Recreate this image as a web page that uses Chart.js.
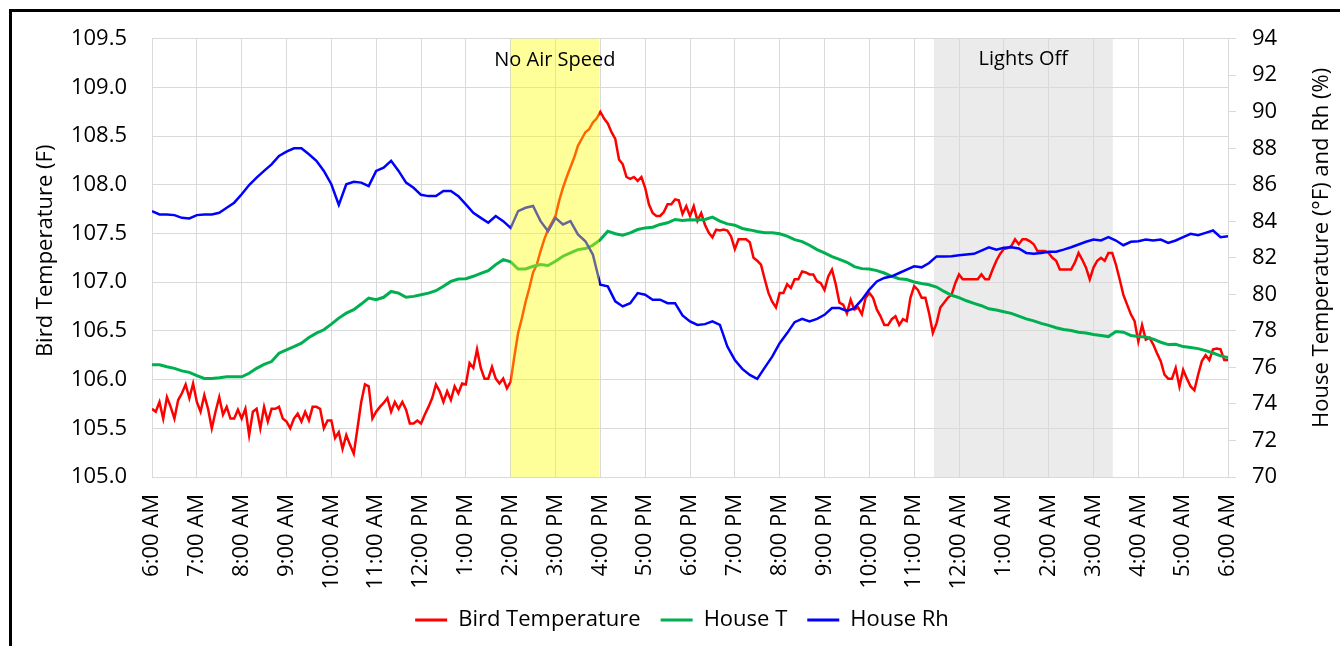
<!DOCTYPE html>
<html>
<head>
<meta charset="utf-8">
<script src="https://cdn.jsdelivr.net/npm/chart.js@4.4.0/dist/chart.umd.min.js"></script>
<style>
html,body{margin:0;padding:0;background:#fff;overflow:hidden;width:1340px;height:646px;}
#frame{position:absolute;left:9px;top:9px;width:1400px;height:700px;border-left:3px solid #000;border-top:3px solid #000;}
#wrap{position:absolute;left:12px;top:12px;width:1340px;height:634px;}
</style>
</head>
<body>
<div id="frame"></div>
<div id="wrap"><canvas id="c" width="1340" height="634"></canvas></div>
<script>
// ---- tick labels (hours from 6:00 AM) ----
const hourLabels = ["6:00 AM","7:00 AM","8:00 AM","9:00 AM","10:00 AM","11:00 AM","12:00 PM","1:00 PM","2:00 PM","3:00 PM","4:00 PM","5:00 PM","6:00 PM","7:00 PM","8:00 PM","9:00 PM","10:00 PM","11:00 PM","12:00 AM","1:00 AM","2:00 AM","3:00 AM","4:00 AM","5:00 AM","6:00 AM"];
const leftTicks = [105.0,105.5,106.0,106.5,107.0,107.5,108.0,108.5,109.0,109.5];
const rightTicks = [70,72,74,76,78,80,82,84,86,88,90,92,94];

// ---- shaded periods, hours after 6:00 AM ----
const noAirSpeed = [8.0, 9.97];
const lightsOff = [17.44, 21.43];

// ---- Bird Temperature (F), every 5 minutes from 6:00 AM ----
const birdStepMin = 5;
const birdTemp = [
105.70,105.67,105.77,105.60,105.82,105.72,105.60,105.79,105.86,105.95,105.81,105.96,
105.77,105.67,105.84,105.70,105.50,105.67,105.82,105.64,105.72,105.60,105.60,105.69,
105.60,105.70,105.43,105.67,105.70,105.50,105.72,105.57,105.70,105.70,105.72,105.60,
105.57,105.50,105.60,105.65,105.57,105.67,105.58,105.72,105.72,105.70,105.50,105.58,
105.58,105.40,105.46,105.29,105.43,105.33,105.24,105.50,105.77,105.95,105.93,105.60,
105.67,105.72,105.76,105.81,105.67,105.77,105.70,105.77,105.69,105.55,105.55,105.58,
105.55,105.64,105.72,105.81,105.95,105.88,105.77,105.88,105.79,105.93,105.86,105.96,
105.95,106.17,106.12,106.31,106.12,106.01,106.01,106.13,106.01,105.96,106.01,105.91,
105.98,106.24,106.48,106.63,106.80,106.94,107.10,107.18,107.32,107.44,107.54,107.61,
107.68,107.84,107.97,108.08,108.18,108.28,108.40,108.47,108.54,108.57,108.64,108.68,
108.75,108.68,108.63,108.54,108.47,108.26,108.21,108.08,108.06,108.08,108.04,108.08,
107.97,107.80,107.71,107.68,107.68,107.72,107.80,107.80,107.85,107.84,107.70,107.78,
107.68,107.78,107.63,107.71,107.59,107.51,107.46,107.54,107.53,107.54,107.53,107.47,
107.34,107.44,107.44,107.44,107.41,107.25,107.22,107.18,107.03,106.89,106.80,106.74,
106.89,106.89,106.98,106.94,107.03,107.03,107.11,107.10,107.08,107.08,107.01,106.99,
106.92,107.06,107.13,106.98,106.79,106.77,106.68,106.82,106.72,106.74,106.67,106.84,
106.89,106.84,106.72,106.65,106.56,106.56,106.62,106.65,106.56,106.62,106.60,106.84,
106.96,106.92,106.84,106.84,106.68,106.48,106.58,106.74,106.79,106.84,106.87,106.99,
107.08,107.03,107.03,107.03,107.03,107.03,107.08,107.03,107.03,107.13,107.22,107.29,
107.34,107.35,107.37,107.44,107.39,107.44,107.44,107.42,107.39,107.32,107.32,107.32,
107.30,107.25,107.22,107.13,107.13,107.13,107.13,107.20,107.30,107.23,107.15,107.03,
107.15,107.22,107.25,107.22,107.30,107.30,107.18,107.03,106.87,106.77,106.67,106.60,
106.39,106.56,106.41,106.43,106.36,106.27,106.19,106.05,106.01,106.01,106.12,105.93,
106.10,106.01,105.93,105.89,106.05,106.19,106.25,106.20,106.31,106.32,106.31,106.20,106.20
];

// ---- House T (F), every 10 minutes from 6:00 AM ----
const houseStepMin = 10;
const houseT = [
76.14,76.14,76.04,75.95,75.81,75.73,75.55,75.40,75.40,75.44,75.49,75.49,
75.49,75.68,75.95,76.17,76.32,76.78,76.96,77.14,77.33,77.64,77.88,78.06,
78.37,78.70,78.97,79.16,79.47,79.80,79.71,79.84,80.16,80.07,79.84,79.89,
79.98,80.07,80.20,80.44,80.71,80.84,80.86,80.99,81.15,81.30,81.63,81.90,
81.78,81.39,81.39,81.54,81.63,81.58,81.81,82.09,82.27,82.45,82.51,82.69,
83.00,83.46,83.32,83.24,83.37,83.55,83.64,83.68,83.83,83.92,84.10,84.05,
84.08,84.07,84.10,84.23,84.01,83.86,83.79,83.61,83.53,83.44,83.37,83.37,
83.32,83.19,83.00,82.89,82.69,82.45,82.27,82.07,81.92,81.76,81.52,81.41,
81.39,81.30,81.17,80.99,80.86,80.81,80.68,80.60,80.53,80.40,80.16,79.95,
79.82,79.65,79.51,79.38,79.21,79.14,79.05,78.96,78.81,78.66,78.55,78.41,
78.30,78.17,78.08,78.02,77.93,77.88,77.80,77.75,77.69,77.97,77.93,77.75,
77.69,77.67,77.55,77.38,77.25,77.27,77.14,77.09,77.03,76.92,76.79,76.63,76.54
];

// ---- House Rh (%), every 10 minutes from 6:00 AM ----
const houseRh = [
84.56,84.38,84.38,84.34,84.19,84.16,84.34,84.38,84.38,84.47,84.74,85.02,
85.48,85.99,86.39,86.76,87.12,87.58,87.82,88.00,88.00,87.67,87.31,86.76,
86.03,84.90,86.03,86.17,86.12,85.93,86.76,86.94,87.31,86.76,86.12,85.84,
85.45,85.38,85.38,85.66,85.66,85.38,84.93,84.47,84.19,83.92,84.29,84.01,
83.64,84.56,84.74,84.84,84.01,83.46,84.19,83.83,84.01,83.28,82.91,82.18,
80.53,80.44,79.62,79.34,79.52,80.07,79.98,79.71,79.71,79.52,79.52,78.85,
78.52,78.33,78.37,78.52,78.33,77.14,76.41,75.92,75.59,75.37,75.99,76.59,
77.33,77.88,78.48,78.66,78.52,78.66,78.88,79.25,79.25,79.10,79.25,79.71,
80.26,80.71,80.90,80.99,81.17,81.36,81.54,81.48,81.72,82.08,82.07,82.09,
82.14,82.18,82.22,82.40,82.58,82.45,82.55,82.58,82.51,82.27,82.22,82.27,
82.33,82.33,82.45,82.58,82.73,82.88,83.00,82.95,83.13,82.95,82.69,82.88,
82.91,83.00,82.95,83.00,82.82,82.95,83.13,83.32,83.24,83.37,83.50,83.13,83.19
];

const toPoints = (vals, stepMin) => vals.map((v, i) => ({x: i * stepMin / 60, y: v}));

const FONT = "'Open Sans', 'DejaVu Sans', sans-serif";
Chart.defaults.font.family = FONT;
Chart.defaults.color = '#000';
const GRID = '#D9D9D9';

const decor = {
  id: 'decor',
  beforeDraw(chart) {
    const {ctx, chartArea: a, scales: {x}} = chart;
    const x0 = x.getPixelForValue(lightsOff[0]), x1 = x.getPixelForValue(lightsOff[1]);
    ctx.save();
    ctx.fillStyle = '#EBEBEB';
    ctx.fillRect(x0, a.top, x1 - x0, a.bottom - a.top);
    ctx.restore();
  },
  afterDatasetsDraw(chart) {
    const {ctx, chartArea: a, scales: {x}} = chart;
    const y0 = x.getPixelForValue(noAirSpeed[0]), y1 = x.getPixelForValue(noAirSpeed[1]);
    ctx.save();
    ctx.fillStyle = 'rgba(255,255,0,0.4)';
    ctx.fillRect(y0, a.top, y1 - y0, a.bottom - a.top);
    ctx.fillStyle = '#000';
    ctx.font = '20px ' + FONT;
    ctx.textAlign = 'center';
    ctx.textBaseline = 'middle';
    ctx.fillText('No Air Speed', (y0 + y1) / 2, a.top + 22);
    const g0 = x.getPixelForValue(lightsOff[0]), g1 = x.getPixelForValue(lightsOff[1]);
    ctx.fillText('Lights Off', (g0 + g1) / 2, a.top + 21);
    ctx.restore();
  },
  afterDraw(chart) {
    const {ctx, chartArea: a} = chart;
    const mid = (a.top + a.bottom) / 2;
    ctx.save();
    ctx.fillStyle = '#000';
    ctx.font = '22px ' + FONT;
    ctx.textAlign = 'center';
    ctx.textBaseline = 'middle';
    ctx.translate(a.left - 106, mid - 7);
    ctx.rotate(-Math.PI / 2);
    ctx.fillText('Bird Temperature (F)', 0, 0);
    ctx.restore();
    ctx.save();
    ctx.fillStyle = '#000';
    ctx.font = '22px ' + FONT;
    ctx.textAlign = 'center';
    ctx.textBaseline = 'middle';
    ctx.translate(a.right + 94, mid - 10);
    ctx.rotate(-Math.PI / 2);
    ctx.fillText('House Temperature (°F) and Rh (%)', 0, 0);
    ctx.restore();
  }
};

const noVertPad = s => { s.paddingTop = 0; s.paddingBottom = 0; };

new Chart(document.getElementById('c'), {
  type: 'line',
  data: {
    datasets: [
      {label: 'Bird Temperature', data: toPoints(birdTemp, birdStepMin), yAxisID: 'y',
       borderColor: '#FF0000', backgroundColor: '#FF0000', borderWidth: 2.5, pointRadius: 0, tension: 0, order: 3},
      {label: 'House T', data: toPoints(houseT, houseStepMin), yAxisID: 'y2',
       borderColor: '#00B050', backgroundColor: '#00B050', borderWidth: 3, pointRadius: 0, tension: 0, order: 2},
      {label: 'House Rh', data: toPoints(houseRh, houseStepMin), yAxisID: 'y2',
       borderColor: '#0000FF', backgroundColor: '#0000FF', borderWidth: 2.5, pointRadius: 0, tension: 0, order: 1}
    ]
  },
  options: {
    responsive: false,
    animation: false,
    devicePixelRatio: 1,
    layout: {padding: {top: 26.7, bottom: 5, left: 0, right: 0}},
    scales: {
      x: {
        type: 'linear', min: 0, max: hourLabels.length - 1,
        ticks: {stepSize: 1, autoSkip: false, maxRotation: 90, minRotation: 90, padding: 17,
                font: {size: 22}, color: '#000', callback: (v, i) => hourLabels[i]},
        grid: {color: GRID, drawTicks: false},
        border: {color: GRID},
        afterFit: s => { s.height = 112; }
      },
      y: {
        position: 'left', min: leftTicks[0], max: leftTicks[leftTicks.length - 1],
        afterBuildTicks: s => { s.ticks = leftTicks.map(v => ({value: v})); },
        ticks: {padding: 25, font: {size: 22}, color: '#000', callback: v => v.toFixed(1)},
        grid: {color: GRID, drawTicks: false},
        border: {color: GRID},
        afterFit: s => { s.width = 140; noVertPad(s); }
      },
      y2: {
        position: 'right', min: rightTicks[0], max: rightTicks[rightTicks.length - 1],
        afterBuildTicks: s => { s.ticks = rightTicks.map(v => ({value: v})); },
        ticks: {padding: 16, font: {size: 22}, color: '#000', callback: v => String(v)},
        grid: {drawOnChartArea: false, color: GRID, tickLength: 8},
        border: {color: GRID},
        afterFit: s => { s.width = 124; noVertPad(s); }
      }
    },
    plugins: {
      legend: {
        position: 'bottom',
        labels: {
          boxWidth: 32, boxHeight: 3, padding: 20, font: {size: 22}, color: '#000',
          sort: (a, b) => a.datasetIndex - b.datasetIndex,
          generateLabels: chart => Chart.defaults.plugins.legend.labels.generateLabels(chart).map(l => Object.assign(l, {lineWidth: 0}))
        }
      },
      tooltip: {enabled: false}
    }
  },
  plugins: [decor]
});
</script>
</body>
</html>
